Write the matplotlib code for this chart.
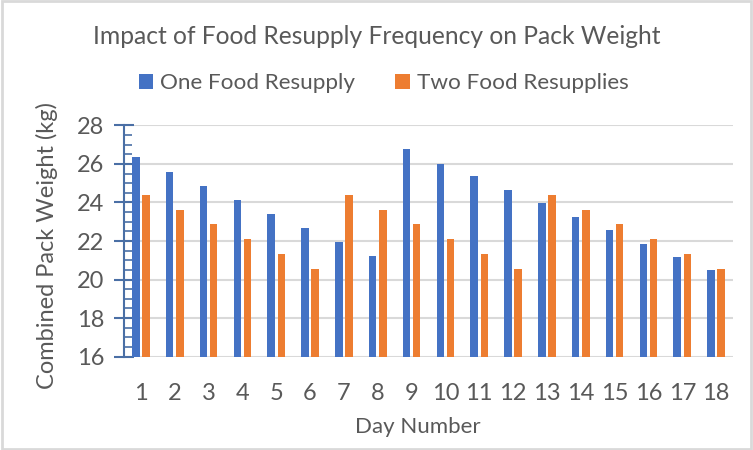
import numpy as np
import matplotlib
matplotlib.use("Agg")
import matplotlib.pyplot as plt
from matplotlib.ticker import MultipleLocator
from matplotlib.patches import Rectangle

days = list(range(1, 19))
one_resupply = [26.35, 25.6, 24.85, 24.15, 23.4, 22.7, 21.95, 21.2, 26.75,
                26.0, 25.35, 24.65, 23.95, 23.25, 22.55, 21.85, 21.15, 20.5]
two_resupplies = [24.4, 23.6, 22.9, 22.1, 21.35, 20.55, 24.4, 23.6, 22.9,
                  22.1, 21.35, 20.55, 24.4, 23.6, 22.9, 22.1, 21.35, 20.55]

plt.rcParams['font.family'] = ['Lato', 'DejaVu Sans']
text_color = "#595959"

fig = plt.figure(figsize=(7.53, 4.5), dpi=100)
ax = fig.add_axes([124 / 753, 1 - 356.7 / 450, 609 / 753, 231.4 / 450])

x = np.array(days)
w = 0.22
ax.bar(x - 0.15, one_resupply, width=w, color="#4472C4", label="One Food Resupply", zorder=3)
ax.bar(x + 0.15, two_resupplies, width=w, color="#ED7D31", label="Two Food Resupplies", zorder=3)

ax.set_xlim(0.5, 18.5)
ax.set_ylim(16, 28)
ax.set_xticks(days)
ax.set_xticklabels([str(d) for d in days])
ax.yaxis.set_major_locator(MultipleLocator(2))
ax.yaxis.set_minor_locator(MultipleLocator(0.5))

ax.grid(axis="y", color="#D9D9D9", linewidth=1.5, zorder=0)
for s in ["top", "right", "bottom"]:
    ax.spines[s].set_visible(False)
ax.spines["left"].set_color("#4A6FA5")
ax.spines["left"].set_linewidth(1.5)
ax.spines["left"].set_zorder(4)

ax.tick_params(axis="y", which="major", direction="inout", length=14, width=1.5,
               color="#4A6FA5", labelcolor=text_color, labelsize=17, pad=7)
ax.tick_params(axis="y", which="minor", direction="in", length=6, width=1.2,
               color="#4A6FA5")
ax.tick_params(axis="x", length=0, labelcolor=text_color, labelsize=17, pad=19)

ax.set_xlabel("Day Number", color=text_color, fontsize=16)
ax.set_ylabel("Combined Pack Weight (kg)", color=text_color, fontsize=17)
ax.xaxis.set_label_coords((417.5 - 124) / 609, (356.7 - 417) / 231.4)
ax.yaxis.set_label_coords((58 - 124) / 609, (356.7 - 245.5) / 231.4)

fig.suptitle("Impact of Food Resupply Frequency on Pack Weight", color=text_color,
             fontsize=17.7, y=1 - 36 / 450, va="center")
fig.legend(loc="center", bbox_to_anchor=(0.5 + 7 / 753, 1 - 83 / 450), ncol=2,
           frameon=False, fontsize=16.2, labelcolor=text_color, handlelength=0.65,
           handleheight=0.65, handletextpad=0.3, columnspacing=1.8)

fig.patches.append(Rectangle((0.002, 0.003), 0.996, 0.994, transform=fig.transFigure,
                             fill=False, edgecolor="#D9D9D9", linewidth=2))

plt.savefig("out.png", dpi=100)
